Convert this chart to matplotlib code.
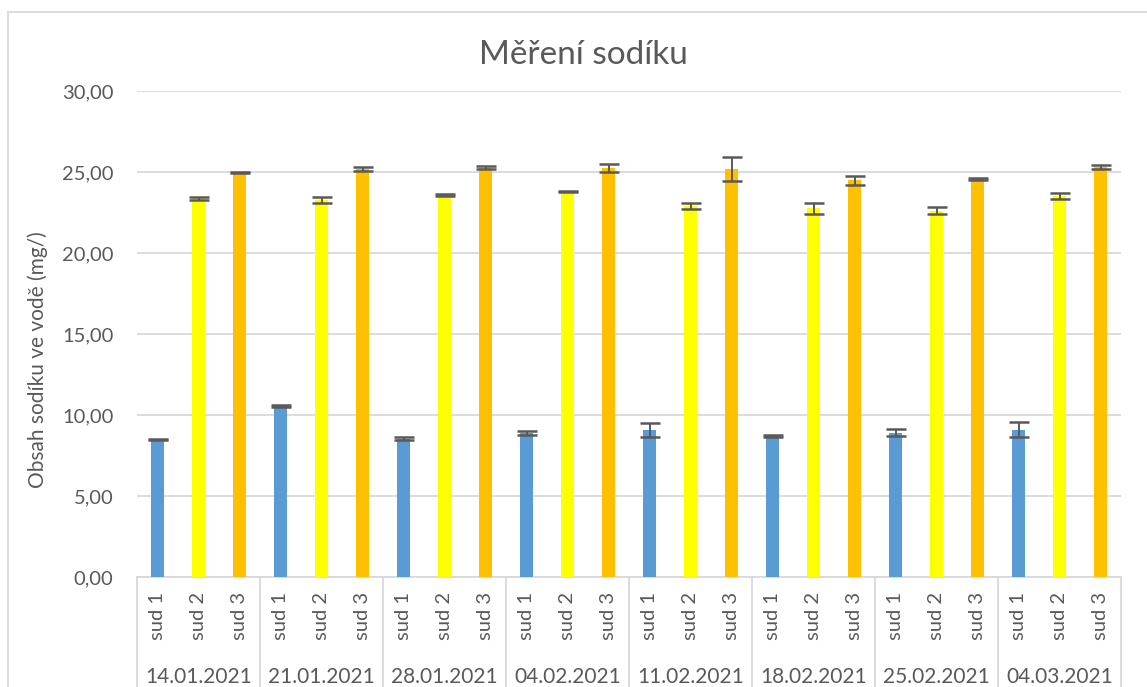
import matplotlib
matplotlib.use("Agg")
import matplotlib.pyplot as plt
from matplotlib.patches import Rectangle
import numpy as np

plt.rcParams['font.family'] = ['Lato', 'DejaVu Sans']

dates = ["14.01.2021", "21.01.2021", "28.01.2021", "04.02.2021",
         "11.02.2021", "18.02.2021", "25.02.2021", "04.03.2021"]
series_names = ["sud 1", "sud 2", "sud 3"]
sud1 = [8.48, 10.56, 8.54, 8.87, 9.07, 8.72, 8.91, 9.09]
sud1_err = [0.05, 0.05, 0.10, 0.13, 0.41, 0.05, 0.20, 0.47]
sud2 = [23.38, 23.27, 23.58, 23.79, 22.90, 22.75, 22.60, 23.50]
sud2_err = [0.10, 0.17, 0.05, 0.04, 0.16, 0.32, 0.22, 0.19]
sud3 = [24.98, 25.20, 25.27, 25.22, 25.18, 24.49, 24.55, 25.30]
sud3_err = [0.03, 0.12, 0.08, 0.25, 0.72, 0.29, 0.05, 0.11]
colors = ["#5B9BD5", "#FFFF00", "#FFC000"]

title = "Měření sodíku"
ylabel = "Obsah sodíku ve vodě (mg/)"
yticks = [0, 5, 10, 15, 20, 25, 30]

W, H = 1147, 687
fig = plt.figure(figsize=(W / 100, H / 100), dpi=100)
ax = fig.add_axes([137 / W, 1 - 577 / H, (1121 - 137) / W, (577 - 91) / H])

txt = "#595959"
grid = "#D9D9D9"

n = len(dates)
vals = [sud1, sud2, sud3]
errs = [sud1_err, sud2_err, sud3_err]
for s in range(3):
    x = np.arange(n) * 3 + s
    ax.bar(x, vals[s], width=0.32, color=colors[s], zorder=3)
    ax.errorbar(x, vals[s], yerr=errs[s], fmt='none', ecolor=txt,
                elinewidth=1.4, capsize=7.0, capthick=1.8, zorder=4)

ax.set_xlim(-0.5, 3 * n - 0.5)
ax.set_ylim(0, 30)
ax.set_yticks(yticks)
ax.set_yticklabels([f"{v:.2f}".replace('.', ',') for v in yticks],
                   fontsize=14.5, color=txt)
ax.tick_params(axis='y', length=0, pad=17)
ax.yaxis.grid(True, color=grid, linewidth=1.3, zorder=0)
ax.set_axisbelow(True)

xt = np.arange(3 * n)
ax.set_xticks(xt)
ax.set_xticklabels([series_names[i % 3] for i in xt], rotation=90,
                   fontsize=14.5, color=txt, va='top')
ax.tick_params(axis='x', length=0, pad=11)

for sp in ['top', 'right', 'left']:
    ax.spines[sp].set_visible(False)
ax.spines['bottom'].set_color(grid)
ax.spines['bottom'].set_linewidth(1.3)

tr = ax.get_xaxis_transform()
for g in range(n + 1):
    ax.plot([g * 3 - 0.5, g * 3 - 0.5], [0, -0.3], transform=tr,
            color=grid, linewidth=1.3, clip_on=False)
for g in range(n):
    ax.text(g * 3 + 1, -0.2058, dates[g], transform=tr, ha='center',
            va='center', fontsize=15, color=txt)

fig.text(583 / W, 1 - 55 / H, title, ha='center', va='center',
         fontsize=24, color=txt)
fig.text(38 / W, 1 - 360 / H, ylabel, ha='center', va='center',
         rotation=90, fontsize=15, color=txt)

fig.patches.append(Rectangle((8 / W, -0.1), 1.2, 1 - 12 / H + 0.1,
                             transform=fig.transFigure, fill=False,
                             edgecolor=grid, linewidth=1.3))

fig.savefig("out.png", dpi=100)
